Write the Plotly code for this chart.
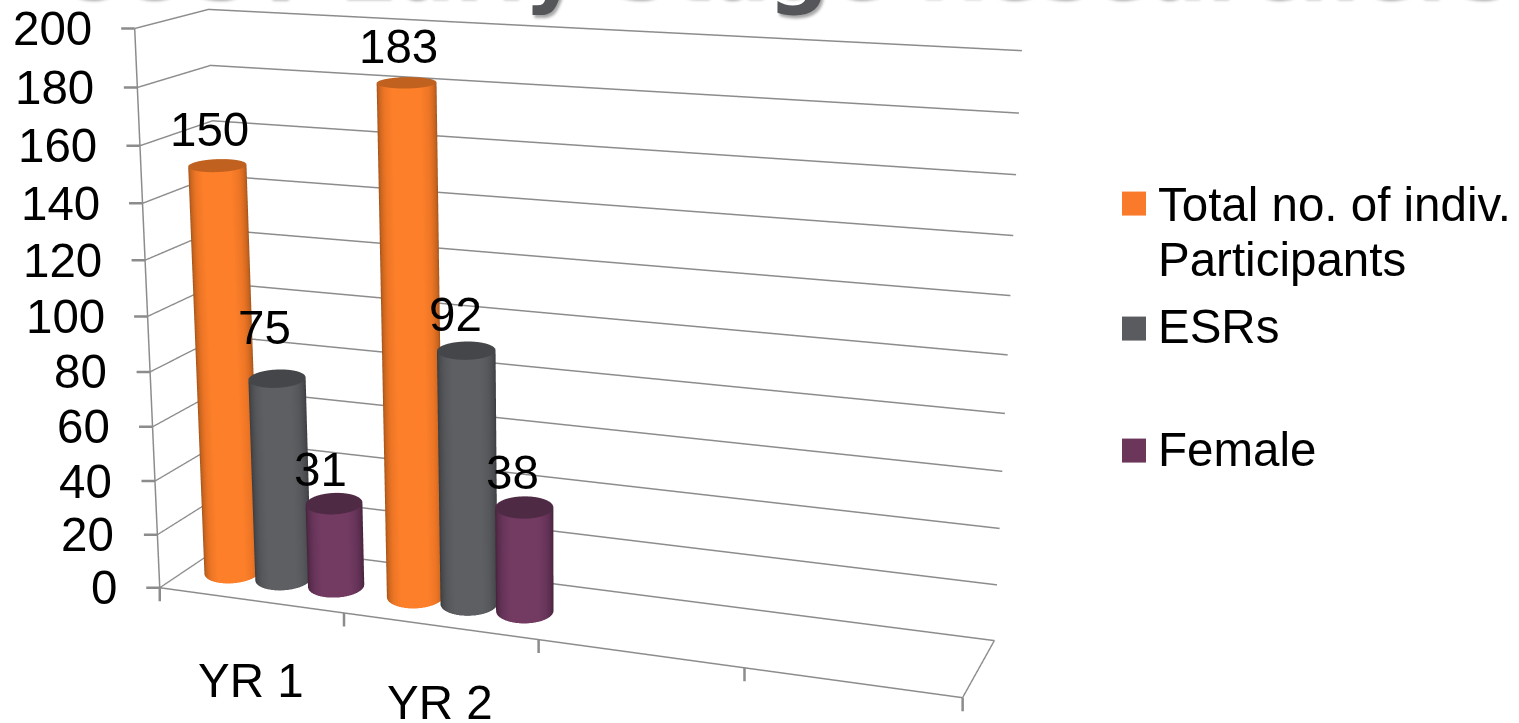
import numpy as np
import plotly.graph_objects as go

categories = ["YR 1", "YR 2", "", ""]
total = [150, 183]
esrs = [75, 92]
female = [31, 38]
z_ticks = [0,20,40,60,80,100,120,140,160,180,200]
x_ticks = [0,1,2,3,4]

# camera fitted to the reference's perspective
EYE = np.array([1.4370,-3.8809,1.0900])
PAN, TILT = -0.3527,-0.2640
ax, ay = 1.4479, 0.2617
FOCAL, cx, cy = 2538.9110, 570.0683, 351.9340
F = np.array([np.cos(TILT)*np.sin(PAN), np.cos(TILT)*np.cos(PAN), np.sin(TILT)])
C = EYE+F*np.linalg.norm(EYE)
H = int(round(2*FOCAL*np.tan(np.pi/8)))
TOP = H/2-cy
WF = 1519
dom = [0,2*cx/WF]
def px(x): return x/WF
def py(y): return 1-(y+TOP)/H

colors = [dict(stops=["#8e4a18","#c4621e","#ec7525","#fd7f2a"],top="#c0611f",swatch="#fa7a2b"),
          dict(stops=["#343538","#46474a","#56575b","#5e5f63"],top="#454649",swatch="#5a5b5f"),
          dict(stops=["#3a1d33","#532a47","#67345a","#733b62"],top="#4f2a45",swatch="#6b3659")]
offsets = [0.231,0.515,0.805]
YC = 0.45
RA, RB = 0.05, 0.06
label_dx = [[-8,-8],[-13,-11],[-14,-12]]
label_dy = [[36,36],[51,36],[34,35]]
cat_dy = [-80,-76]
fig = go.Figure()
theta = np.linspace(0,2*np.pi,145)
light=dict(ambient=1,diffuse=0,specular=0,roughness=1,fresnel=0)
Rh = np.array([np.cos(PAN),-np.sin(PAN)])
Fh = np.array([np.sin(PAN),np.cos(PAN)])
def to_data(w):
    return (w[0]/ax+0.5)*4, w[1]/ay+0.5
for s,(vals,col) in enumerate(zip([total,esrs,female],colors)):
    for i,v in enumerate(vals):
        xc = i+offsets[s]
        c = np.array([(xc/4-0.5)*ax,(YC-0.5)*ay])
        wx = c[0]+RA*np.cos(theta)*Rh[0]+RB*np.sin(theta)*Fh[0]
        wy = c[1]+RA*np.cos(theta)*Rh[1]+RB*np.sin(theta)*Fh[1]
        dx,dy = to_data((wx,wy))
        X = np.vstack([dx]*2); Y = np.vstack([dy]*2)
        Z = np.vstack([np.zeros_like(theta), np.full_like(theta,v)])
        nx = np.cos(theta)/RA*Rh[0]+np.sin(theta)/RB*Fh[0]
        ny = np.cos(theta)/RA*Rh[1]+np.sin(theta)/RB*Fh[1]
        nn = np.hypot(nx,ny)
        tx,ty = EYE[0]-c[0],EYE[1]-c[1]
        tn = np.hypot(tx,ty)
        shade = np.vstack([np.clip((nx*tx+ny*ty)/(nn*tn),0,1)]*2)
        st = col["stops"]
        cs=[[0,st[0]],[0.3,st[1]],[0.6,st[2]],[0.85,st[3]],[1,st[3]]]
        fig.add_trace(go.Surface(x=X,y=Y,z=Z,surfacecolor=shade,cmin=0,cmax=1,colorscale=cs,showscale=False,lighting=light,hoverinfo="skip"))
        rr = np.array([0,1.0])
        Xt = dx[None,:]*rr[:,None]+to_data(c)[0]*(1-rr[:,None])
        Yt = dy[None,:]*rr[:,None]+to_data(c)[1]*(1-rr[:,None])
        Zt = np.full_like(Xt,v)
        fig.add_trace(go.Surface(x=Xt,y=Yt,z=Zt,surfacecolor=np.zeros_like(Xt),cmin=0,cmax=1,colorscale=[[0,col["top"]],[1,col["top"]]],showscale=False,lighting=light,hoverinfo="skip"))

font = "Liberation Sans, Arial, sans-serif"
tf = dict(size=47.5,color="#000",family=font)
axis_line="#8c8c8c"
ann=[]
for s,vals in enumerate([total,esrs,female]):
    for i,v in enumerate(vals):
        ann.append(dict(x=i+offsets[s],y=YC,z=v,text=str(v),showarrow=False,font=tf,yshift=label_dy[s][i],xshift=label_dx[s][i]))
for i,lab in enumerate(categories):
    if lab:
        ann.append(dict(x=i+0.5,y=0,z=0,text=lab,showarrow=False,font=tf,yshift=cat_dy[i]))
for t in z_ticks:
    ann.append(dict(x=0,y=0,z=t,text=str(t),showarrow=False,font=tf,xanchor="right",xshift=-41))
    ann.append(dict(x=0,y=0,z=t,text="",showarrow=True,arrowhead=0,arrowwidth=2.5,arrowcolor=axis_line,ax=-15,ay=0))
for t in x_ticks:
    ann.append(dict(x=t,y=0,z=0,text="",showarrow=True,arrowhead=0,arrowwidth=2.5,arrowcolor=axis_line,ax=0,ay=15))
noax=dict(showspikes=False,showbackground=False,title=dict(text=""),zeroline=False)
top_ann=[
  dict(text="COST Early Stage Researchers",xref="paper",yref="paper",x=px(52),xanchor="left",y=py(19),yanchor="bottom",showarrow=False,font=dict(size=85,family="DejaVu Sans",weight="bold",color="#55565a",shadow="2px 3px 3px rgba(0,0,0,0.35)")),
]
leg_names = [("Total no. of indiv.",205),("Participants",260),("ESRs",327),("Female",450)]
for name,y in leg_names:
    top_ann.append(dict(text=name,xref="paper",yref="paper",x=px(1156),y=py(y),xanchor="left",yanchor="middle",showarrow=False,font=tf))
shapes=[]
for (y,col) in zip([204,329,451],colors):
    shapes.append(dict(type="rect",xref="paper",yref="paper",x0=px(1122),x1=px(1146),y0=py(y-12),y1=py(y+12),fillcolor=col["swatch"],line=dict(width=0)))
fig.update_layout(
    margin=dict(l=0,r=0,t=0,b=0),width=WF,height=H,paper_bgcolor="white",showlegend=False,
    scene=dict(domain=dict(x=dom,y=[0,1]),aspectmode="manual",aspectratio=dict(x=ax,y=ay,z=1),
      camera=dict(eye=dict(x=EYE[0],y=EYE[1],z=EYE[2]),center=dict(x=C[0],y=C[1],z=C[2]),up=dict(x=0,y=0,z=1),projection=dict(type="perspective")),
      annotations=ann,
      xaxis=dict(range=[0,4],tickvals=[],showgrid=False,showline=True,linecolor=axis_line,linewidth=3,**noax),
      yaxis=dict(range=[0,1],tickvals=[],showgrid=False,showline=True,linecolor=axis_line,linewidth=3,**noax),
      zaxis=dict(range=[0,200],tickvals=z_ticks,showticklabels=False,ticks="",gridcolor=axis_line,gridwidth=3,showline=True,linecolor=axis_line,linewidth=3,**noax)),
    annotations=top_ann,shapes=shapes)
post = ("var gd=document.getElementById('{plot_id}');document.documentElement.style.overflow='hidden';"
        "document.body.style.margin='0';document.body.style.overflow='hidden';document.body.style.height='723px';"
        "gd.style.position='absolute';gd.style.left='0';gd.style.top='%dpx';" % (-round(TOP)))
fig.write_html("out.html", post_script=post)
